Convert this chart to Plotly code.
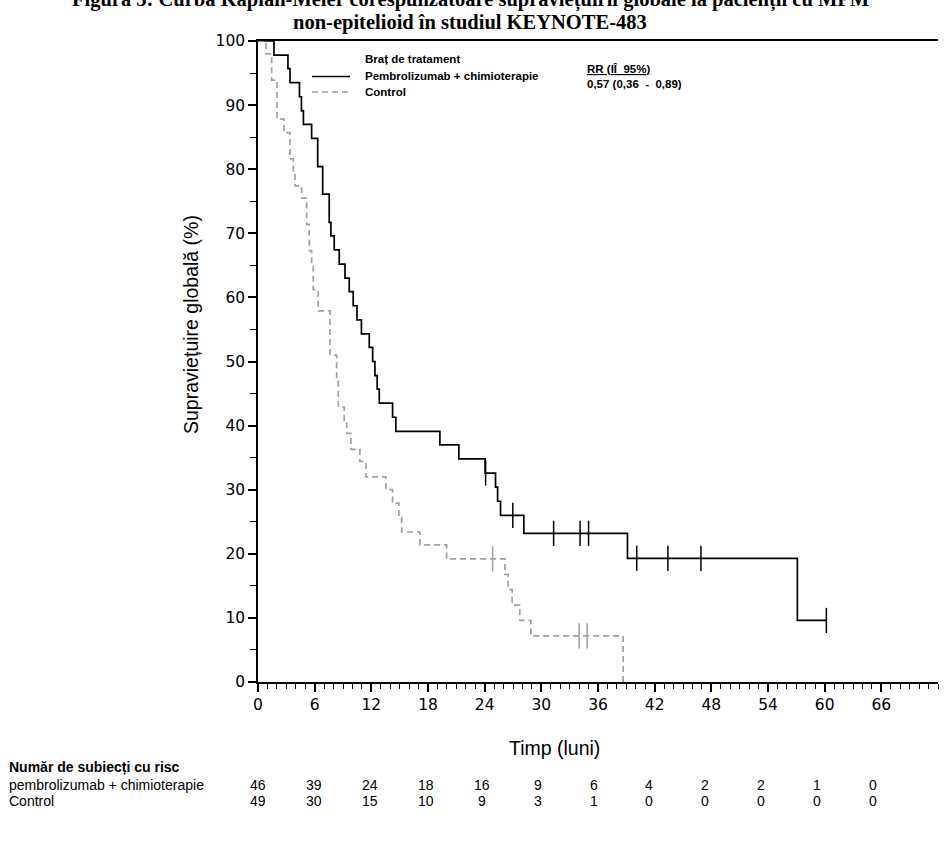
import plotly.graph_objects as go

# ---------------- data ----------------
trt_t = [0, 1.69, 3.17, 3.39, 4.39, 4.60, 4.81, 5.68, 6.32, 6.85, 7.54, 7.72, 8.07,
         8.60, 9.21, 9.66, 10.08, 10.48, 10.95, 11.78, 12.14, 12.38, 12.62, 12.84,
         14.25, 14.60, 19.26, 21.27, 24.05, 25.15, 25.37, 25.68, 28.15, 39.12, 57.11]
trt_s = [100, 97.8, 95.7, 93.5, 91.3, 89.1, 87.0, 84.8, 80.4, 76.1, 71.7, 69.6, 67.4,
         65.2, 63.0, 60.9, 58.7, 56.5, 54.3, 52.2, 50.0, 47.8, 45.7, 43.5,
         41.3, 39.1, 37.0, 34.8, 32.6, 30.4, 28.2, 26.0, 23.2, 19.3, 9.6]
trt_last = 60.18
trt_cens = [24.1, 26.98, 31.3, 34.1, 35.0, 40.1, 43.4, 46.9, 60.18]

ctl_t = [0, 0.85, 1.45, 2.01, 2.75, 3.39, 3.74, 3.92, 4.62, 5.15, 5.43, 5.68, 5.85,
         6.38, 7.62, 8.33, 8.50, 9.13, 9.39, 9.84, 10.79, 11.43, 13.54, 14.25,
         14.92, 15.21, 17.14, 19.97, 26.14, 26.49, 26.91, 27.72, 28.89, 38.66]
ctl_s = [100, 98.0, 93.9, 87.8, 85.7, 81.6, 79.6, 77.4, 75.5, 71.4, 67.3, 65.3, 61.2,
         57.9, 51.0, 46.9, 42.9, 40.8, 38.8, 36.3, 34.4, 32.0, 30.0, 27.9,
         25.6, 23.4, 21.4, 19.2, 16.8, 14.4, 12.0, 9.6, 7.2, 0]
ctl_cens = [24.84, 34.0, 34.85]

risk_times = [0, 6, 12, 18, 24, 30, 36, 42, 48, 54, 60, 66]
risk_trt = [46, 39, 24, 18, 16, 9, 6, 4, 2, 2, 1, 0]
risk_ctl = [49, 30, 15, 10, 9, 3, 1, 0, 0, 0, 0, 0]

x_ticks = list(range(0, 67, 6))
y_ticks = list(range(0, 101, 10))

title1 = "Figura 3: Curba Kaplan-Meier corespunzătoare supraviețuirii globale la pacienții cu MPM"
title2 = "non-epitelioid în studiul KEYNOTE-483"


def level_at(ts, ss, t):
    v = ss[0]
    for ti, si in zip(ts, ss):
        if ti <= t:
            v = si
    return v


# ---------------- figure ----------------
W, H = 948, 844
L, R, T, B = 258, 10, 41, 162
PW, PH = W - L - R, H - T - B


def px(x):
    return (x - L) / PW


def py(y):
    return (T + PH - y) / PH


BLACK = "#000000"
GRAY = "#a0a0a0"

fig = go.Figure()
fig.add_trace(go.Scatter(x=trt_t + [trt_last], y=trt_s + [trt_s[-1]], mode="lines",
                         line=dict(color=BLACK, width=1.7, shape="hv"),
                         showlegend=False, hoverinfo="skip"))
fig.add_trace(go.Scatter(x=ctl_t, y=ctl_s, mode="lines",
                         line=dict(color=GRAY, width=1.7, shape="hv", dash="6px,4px"),
                         showlegend=False, hoverinfo="skip"))
fig.add_trace(go.Scatter(x=trt_cens, y=[level_at(trt_t, trt_s, t) for t in trt_cens],
                         mode="markers",
                         marker=dict(symbol="line-ns", size=18,
                                     line=dict(color=BLACK, width=1.5)),
                         showlegend=False, hoverinfo="skip", cliponaxis=False))
fig.add_trace(go.Scatter(x=ctl_cens, y=[level_at(ctl_t, ctl_s, t) for t in ctl_cens],
                         mode="markers",
                         marker=dict(symbol="line-ns", size=18,
                                     line=dict(color=GRAY, width=1.5)),
                         showlegend=False, hoverinfo="skip", cliponaxis=False))

tickfont = dict(family="DejaVu Sans", size=15.5, color=BLACK)
fig.update_xaxes(range=[0, 72], tickvals=x_ticks, ticks="outside", ticklen=8,
                 tickwidth=1.5, tickcolor=BLACK, showline=True, linewidth=1.5,
                 linecolor=BLACK, mirror=True, showgrid=False, zeroline=False,
                 tickfont=tickfont,
                 minor=dict(dtick=1, tick0=0, ticks="outside", ticklen=5,
                            tickwidth=1, tickcolor=BLACK, showgrid=False))
fig.update_yaxes(range=[0, 100], tickvals=y_ticks, ticks="outside", ticklen=8,
                 tickwidth=1.5, tickcolor=BLACK, showline=True, linewidth=1.5,
                 linecolor=BLACK, showgrid=False, zeroline=False, tickfont=tickfont,
                 minor=dict(dtick=5, tick0=0, ticks="outside", ticklen=6,
                            tickwidth=1, tickcolor=BLACK, showgrid=False))

ann = []
sans = "Liberation Sans, Arial, sans-serif"
serif = "Liberation Serif, Times New Roman, serif"

ann.append(dict(text="<b>" + title1 + "</b>", x=px(470), y=py(0), xref="paper", yref="paper",
                showarrow=False, xanchor="center", yanchor="middle",
                font=dict(family=serif, size=20.5, color=BLACK)))
ann.append(dict(text="<b>" + title2 + "</b>", x=px(470), y=py(22.5), xref="paper", yref="paper",
                showarrow=False, xanchor="center", yanchor="middle",
                font=dict(family=serif, size=20.5, color=BLACK)))

# axis titles
ann.append(dict(text="Supraviețuire globală (%)", x=px(191), y=py(325), xref="paper",
                yref="paper", showarrow=False, textangle=-90, xanchor="center",
                yanchor="middle", font=dict(family=sans, size=19.5, color=BLACK)))
ann.append(dict(text="Timp (luni)", x=px(554), y=py(748), xref="paper", yref="paper",
                showarrow=False, xanchor="center", yanchor="middle",
                font=dict(family=sans, size=19.5, color=BLACK)))

# legend
lf = dict(family=sans, size=11.5, color=BLACK)
ann.append(dict(text="<b>Braț de tratament</b>", x=px(363), y=py(59), xref="paper", yref="paper",
                showarrow=False, xanchor="left", yanchor="middle", font=lf))
ann.append(dict(text="<b>Pembrolizumab + chimioterapie</b>", x=px(363), y=py(75.5), xref="paper",
                yref="paper", showarrow=False, xanchor="left", yanchor="middle", font=lf))
ann.append(dict(text="<b>Control</b>", x=px(363), y=py(92), xref="paper", yref="paper",
                showarrow=False, xanchor="left", yanchor="middle", font=lf))
ann.append(dict(text="<b><u>RR (IÎ  95%)</u></b>", x=px(585), y=py(69), xref="paper",
                yref="paper", showarrow=False, xanchor="left", yanchor="middle", font=lf))
ann.append(dict(text="<b>0,57 (0,36  -  0,89)</b>", x=px(585), y=py(84), xref="paper",
                yref="paper", showarrow=False, xanchor="left", yanchor="middle", font=lf))

shapes = [
    dict(type="line", xref="paper", yref="paper", x0=px(312), x1=px(350), y0=py(76.5), y1=py(76.5),
         line=dict(color=BLACK, width=1.5)),
    dict(type="line", xref="paper", yref="paper", x0=px(312), x1=px(350), y0=py(92), y1=py(92),
         line=dict(color=GRAY, width=1.5, dash="6px,4px")),
]

# risk table
rf = dict(family=sans, size=14, color=BLACK)
ann.append(dict(text="<b>Număr de subiecți cu risc</b>", x=px(7), y=py(767), xref="paper",
                yref="paper", showarrow=False, xanchor="left", yanchor="middle", font=rf))
ann.append(dict(text="pembrolizumab + chimioterapie", x=px(7), y=py(785), xref="paper",
                yref="paper", showarrow=False, xanchor="left", yanchor="middle", font=rf))
ann.append(dict(text="Control", x=px(7), y=py(801), xref="paper",
                yref="paper", showarrow=False, xanchor="left", yanchor="middle", font=rf))
for i, (t, a, c) in enumerate(zip(risk_times, risk_trt, risk_ctl)):
    ann.append(dict(text=str(a), x=t, y=py(785), xref="x", yref="paper", xshift=-0.75 * i,
                    showarrow=False, xanchor="center", yanchor="middle", font=rf))
    ann.append(dict(text=str(c), x=t, y=py(801), xref="x", yref="paper", xshift=-0.75 * i,
                    showarrow=False, xanchor="center", yanchor="middle", font=rf))

fig.update_layout(width=W, height=H, margin=dict(l=L, r=R, t=T, b=B, autoexpand=False),
                  paper_bgcolor="white", plot_bgcolor="white", annotations=ann,
                  shapes=shapes, showlegend=False)

fig.write_html("out.html")
